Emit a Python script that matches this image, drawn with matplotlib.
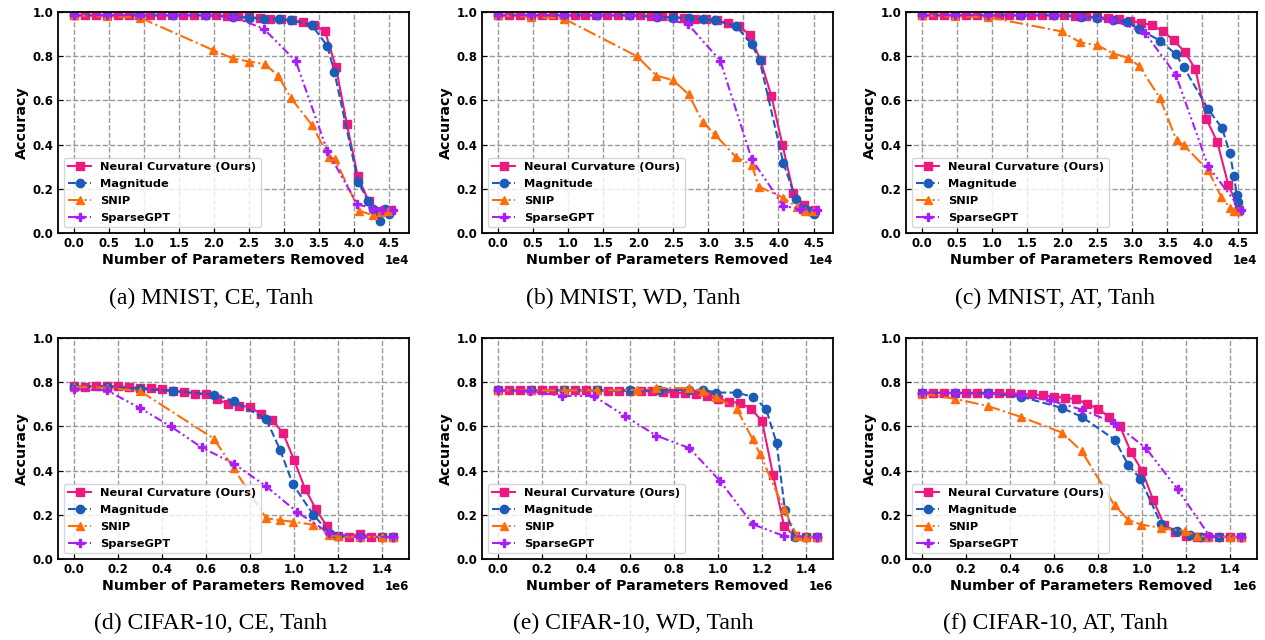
import numpy as np
import matplotlib.pyplot as plt
from matplotlib.ticker import MultipleLocator

# x positions: MNIST in units of 1e4, CIFAR-10 in units of 1e6
nc_x_mnist = [0, 0.156, 0.312, 0.468, 0.624, 0.78, 0.936, 1.092, 1.248, 1.404,
              1.56, 1.716, 1.872, 2.028, 2.184, 2.34, 2.496, 2.652, 2.808, 2.964,
              3.12, 3.276, 3.432, 3.588, 3.744, 3.9, 4.056, 4.212, 4.368, 4.524]
nc_x_cifar = [0, 0.05, 0.1, 0.15, 0.2, 0.25, 0.3, 0.35, 0.4, 0.45,
              0.5, 0.55, 0.6, 0.65, 0.7, 0.75, 0.8, 0.85, 0.9, 0.95,
              1.0, 1.05, 1.1, 1.15, 1.2, 1.25, 1.3, 1.35, 1.4, 1.45]

# (a) MNIST, CE, Tanh
a_nc = [.985, .985, .985, .985, .985, .985, .985, .985, .985, .985, .985, .985, .985, .985, .983,
        .98, .977, .973, .97, .968, .963, .955, .94, .913, .75, .493, .257, .143, .1, .105]
a_mag_x = [0, 0.47, 0.94, 1.41, 1.88, 2.27, 2.5, 2.72, 2.93, 3.1, 3.4, 3.62, 3.72, 4.06, 4.2, 4.28, 4.38, 4.44, 4.5]
a_mag = [.985, .985, .985, .985, .985, .978, .973, .97, .967, .962, .94, .847, .73, .233, .147, .11, .053, .107, .087]
a_snip_x = [0, 0.47, 0.94, 1.98, 2.27, 2.5, 2.73, 2.92, 3.1, 3.4, 3.64, 3.73, 4.08, 4.28, 4.39, 4.49]
a_snip = [.985, .98, .975, .829, .79, .776, .764, .711, .611, .489, .345, .334, .1, .08, .095, .1]
a_sgpt_x = [0, 0.47, 0.94, 1.41, 1.88, 2.27, 2.71, 3.17, 3.62, 4.05, 4.28, 4.4, 4.56]
a_sgpt = [.985, .985, .985, .985, .985, .977, .925, .778, .372, .13, .11, .105, .103]

# (b) MNIST, WD, Tanh
b_nc = [.985, .985, .985, .985, .985, .985, .985, .985, .985, .985, .985, .985, .985, .985, .983,
        .98, .977, .973, .97, .968, .963, .95, .938, .897, .782, .618, .4, .182, .125, .105]
b_mag_x = [0, 0.47, 0.94, 1.41, 1.88, 2.27, 2.5, 2.72, 2.93, 3.1, 3.4, 3.62, 3.73, 4.07, 4.25, 4.36, 4.44, 4.5]
b_mag = [.985, .985, .985, .985, .985, .977, .975, .972, .967, .962, .935, .853, .783, .316, .153, .11, .1, .087]
b_snip_x = [0, 0.47, 0.94, 1.98, 2.26, 2.5, 2.72, 2.92, 3.09, 3.39, 3.62, 3.72, 4.07, 4.27, 4.38, 4.49]
b_snip = [.985, .978, .97, .8, .712, .691, .627, .502, .447, .345, .307, .21, .159, .116, .1, .1]
b_sgpt_x = [0, 0.47, 0.94, 1.41, 1.88, 2.26, 2.71, 3.17, 3.62, 4.07, 4.3, 4.55]
b_sgpt = [.985, .985, .985, .985, .985, .977, .945, .78, .333, .122, .11, .102]

# (c) MNIST, AT, Tanh
c_nc = [.985, .985, .985, .985, .985, .985, .985, .985, .985, .985, .985, .985, .985, .985, .983,
        .981, .977, .973, .967, .96, .952, .94, .914, .872, .821, .741, .516, .411, .218, .105]
c_mag_x = [0, 0.47, 0.94, 1.41, 1.88, 2.27, 2.5, 2.72, 2.92, 3.1, 3.4, 3.62, 3.73, 4.08, 4.28, 4.39, 4.45, 4.49, 4.5, 4.52]
c_mag = [.985, .985, .985, .985, .985, .978, .974, .965, .956, .922, .869, .809, .752, .561, .474, .361, .257, .17, .14, .1]
c_snip_x = [0, 0.47, 0.94, 1.99, 2.26, 2.5, 2.73, 2.94, 3.1, 3.39, 3.63, 3.73, 4.08, 4.27, 4.39, 4.45, 4.51]
c_snip = [.985, .98, .977, .912, .862, .85, .812, .793, .755, .612, .42, .398, .284, .162, .115, .1, .1]
c_sgpt_x = [0, 0.47, 0.94, 1.41, 1.88, 2.25, 2.71, 3.18, 3.62, 4.08, 4.55]
c_sgpt = [.985, .985, .985, .985, .985, .98, .965, .906, .715, .303, .105]

# (d) CIFAR-10, CE, Tanh
d_nc = [.781, .78, .783, .783, .781, .778, .775, .772, .768, .762, .756, .747, .745, .722, .703,
        .694, .688, .655, .63, .57, .449, .318, .225, .148, .103, .1, .115, .1, .1, .1]
d_mag_x = [0, 0.15, 0.3, 0.45, 0.635, 0.726, 0.874, 0.937, 0.995, 1.088, 1.164, 1.2, 1.3, 1.4, 1.45]
d_mag = [.78, .778, .77, .76, .744, .715, .632, .493, .338, .2, .114, .105, .1, .1, .1]
d_snip_x = [0, 0.15, 0.3, 0.635, 0.726, 0.874, 0.937, 0.994, 1.088, 1.16, 1.2, 1.3, 1.4, 1.45]
d_snip = [.78, .775, .76, .545, .41, .184, .175, .169, .155, .11, .102, .1, .1, .1]
d_sgpt_x = [0, 0.15, 0.3, 0.44, 0.58, 0.726, 0.872, 1.015, 1.158, 1.3, 1.45]
d_sgpt = [.768, .763, .683, .6, .505, .432, .33, .212, .118, .098, .1]

# (e) CIFAR-10, WD, Tanh
e_nc = [.763, .763, .763, .763, .763, .763, .763, .763, .763, .763, .762, .762, .761, .76, .758,
        .756, .753, .751, .745, .736, .725, .712, .706, .68, .624, .382, .149, .103, .1, .1]
e_mag_x = [0, 0.15, 0.3, 0.45, 0.6, 0.73, 0.87, 0.932, 0.993, 1.085, 1.16, 1.218, 1.266, 1.304, 1.35, 1.4, 1.45]
e_mag = [.763, .763, .763, .763, .763, .763, .765, .766, .753, .753, .733, .68, .525, .223, .1, .1, .1]
e_snip_x = [0, 0.15, 0.3, 0.45, 0.63, 0.72, 0.87, 0.93, 0.99, 1.085, 1.157, 1.19, 1.3, 1.36, 1.4, 1.45]
e_snip = [.763, .763, .763, .763, .765, .774, .773, .759, .731, .68, .542, .477, .225, .103, .1, .1]
e_sgpt_x = [0, 0.145, 0.29, 0.435, 0.577, 0.72, 0.87, 1.01, 1.158, 1.3, 1.45]
e_sgpt = [.763, .759, .738, .738, .647, .558, .502, .352, .157, .104, .1]

# (f) CIFAR-10, AT, Tanh
f_nc = [.752, .752, .752, .752, .752, .752, .752, .75, .749, .748, .745, .74, .735, .73, .723,
        .703, .68, .643, .6, .483, .4, .269, .155, .121, .102, .1, .1, .1, .1, .1]
f_mag_x = [0, 0.15, 0.3, 0.45, 0.637, 0.727, 0.876, 0.937, 0.993, 1.087, 1.16, 1.22, 1.27, 1.35, 1.45]
f_mag = [.751, .751, .749, .735, .683, .643, .54, .427, .362, .157, .125, .107, .1, .1, .1]
f_snip_x = [0, 0.15, 0.3, 0.45, 0.636, 0.726, 0.875, 0.937, 0.994, 1.088, 1.195, 1.25, 1.3, 1.4, 1.45]
f_snip = [.748, .725, .692, .643, .572, .488, .243, .178, .156, .141, .126, .105, .1, .1, .1]
f_sgpt_x = [0, 0.15, 0.3, 0.45, 0.58, 0.727, 0.874, 1.018, 1.162, 1.306, 1.45]
f_sgpt = [.753, .751, .748, .741, .718, .676, .615, .501, .315, .105, .1]

captions = ['(a) MNIST, CE, Tanh', '(b) MNIST, WD, Tanh', '(c) MNIST, AT, Tanh',
            '(d) CIFAR-10, CE, Tanh', '(e) CIFAR-10, WD, Tanh', '(f) CIFAR-10, AT, Tanh']
labels = ['Neural Curvature (Ours)', 'Magnitude', 'SNIP', 'SparseGPT']
colors = ['#EA1A7F', '#1A5CB8', '#FF6D0A', '#A91EF7']
lstyles = ['-', '--', '-.', (0, (4, 1.5, 1, 1.5, 1, 1.5))]
markers = ['s', 'o', '^', 'P']

panels = [
    (1e4, [(nc_x_mnist, a_nc), (a_mag_x, a_mag), (a_snip_x, a_snip), (a_sgpt_x, a_sgpt)]),
    (1e4, [(nc_x_mnist, b_nc), (b_mag_x, b_mag), (b_snip_x, b_snip), (b_sgpt_x, b_sgpt)]),
    (1e4, [(nc_x_mnist, c_nc), (c_mag_x, c_mag), (c_snip_x, c_snip), (c_sgpt_x, c_sgpt)]),
    (1e6, [(nc_x_cifar, d_nc), (d_mag_x, d_mag), (d_snip_x, d_snip), (d_sgpt_x, d_sgpt)]),
    (1e6, [(nc_x_cifar, e_nc), (e_mag_x, e_mag), (e_snip_x, e_snip), (e_sgpt_x, e_sgpt)]),
    (1e6, [(nc_x_cifar, f_nc), (f_mag_x, f_mag), (f_snip_x, f_snip), (f_sgpt_x, f_sgpt)]),
]

W, H = 1265, 640
fig = plt.figure(figsize=(W / 100, H / 100), dpi=100)

lefts = [58, 482, 906]
tops = [12, 338]
col_centers = [211, 633, 1055]
cap_y = [298, 623]

for k, (scale, series) in enumerate(panels):
    r, c = divmod(k, 3)
    ax = fig.add_axes([lefts[c] / W, 1 - (tops[r] + 221) / H, 351 / W, 221 / H])
    for (xs, ys), lab, col, ls, mk in zip(series, labels, colors, lstyles, markers):
        ax.plot(np.array(xs) * scale, ys, color=col, linestyle=ls, marker=mk,
                markersize=6, linewidth=1.5, label=lab)
    ax.set_ylim(0, 1.0)
    ax.yaxis.set_major_locator(MultipleLocator(0.2))
    ax.xaxis.set_major_locator(MultipleLocator(0.5e4 if scale == 1e4 else 0.2e6))
    ax.ticklabel_format(axis='x', style='sci', scilimits=(0, 0))
    ax.grid(True, linestyle='--', color='gray', linewidth=1, alpha=0.8)
    ax.tick_params(direction='in', labelsize=8.5, pad=3)
    for t in ax.get_xticklabels() + ax.get_yticklabels():
        t.set_fontweight('bold')
    off = ax.xaxis.get_offset_text()
    off.set_fontweight('bold')
    off.set_fontsize(8.5)
    for sp in ax.spines.values():
        sp.set_linewidth(1.3)
    ax.set_xlabel('Number of Parameters Removed', fontsize=10.3, fontweight='bold', labelpad=2)
    ax.set_ylabel('Accuracy', fontsize=10.3, fontweight='bold', labelpad=3)
    ax.legend(loc='lower left', prop={'weight': 'bold', 'size': 8.2}, labelspacing=0.6)
    fig.text(col_centers[c] / W, 1 - cap_y[r] / H, captions[k], ha='center', va='center',
             family='Liberation Serif', fontsize=17)

plt.savefig('out.png', dpi=100)
